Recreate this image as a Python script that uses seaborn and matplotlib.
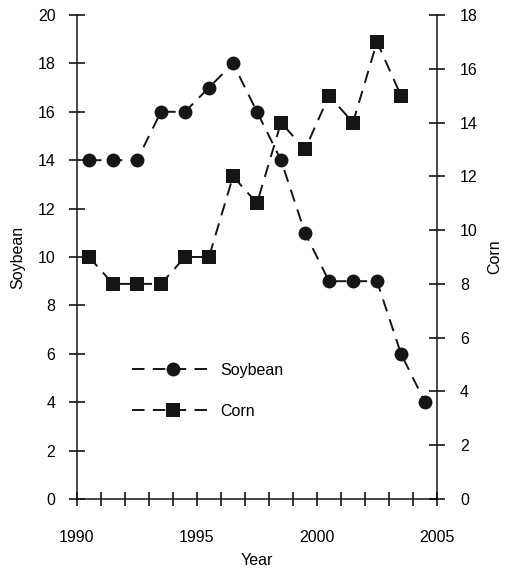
import numpy as np
import pandas as pd
import matplotlib
matplotlib.use('Agg')
import matplotlib.pyplot as plt
import seaborn as sns

# Values (mid-year points)
years_soy = [1990.5, 1991.5, 1992.5, 1993.5, 1994.5, 1995.5, 1996.5, 1997.5,
             1998.5, 1999.5, 2000.5, 2001.5, 2002.5, 2003.5, 2004.5]
soybean = [14, 14, 14, 16, 16, 17, 18, 16, 14, 11, 9, 9, 9, 6, 4]

years_corn = [1990.5, 1991.5, 1992.5, 1993.5, 1994.5, 1995.5, 1996.5,
              1997.5, 1998.5, 1999.5, 2000.5, 2001.5, 2002.5, 2003.5]
corn = [9, 8, 8, 8, 9, 9, 12, 11, 14, 13, 15, 14, 17, 15]

year_ticks = [1990, 1995, 2000, 2005]
soy_ticks = list(range(0, 21, 2))
corn_ticks = list(range(0, 19, 2))

sns.set_style('ticks')
plt.rcParams['font.family'] = ['Liberation Sans', 'DejaVu Sans']
plt.rcParams['text.color'] = 'black'
plt.rcParams['axes.labelcolor'] = 'black'
plt.rcParams['xtick.color'] = 'black'
plt.rcParams['ytick.color'] = 'black'
plt.rcParams['lines.scale_dashes'] = False
plt.rcParams['lines.dashed_pattern'] = [9, 6]

df_soy = pd.DataFrame({'year': years_soy, 'value': soybean})
df_corn = pd.DataFrame({'year': years_corn, 'value': corn})

fig = plt.figure(figsize=(5.05, 5.68), dpi=100)
ax = fig.add_axes([77 / 505, 69 / 568, 360 / 505, 484 / 568])
ax2 = ax.twinx()

line_kw = dict(color='#151515', linewidth=1.4, linestyle='--',
               markersize=10, markeredgewidth=0)
sns.lineplot(data=df_soy, x='year', y='value', ax=ax, marker='o',
             label='Soybean', legend=False, **line_kw)
sns.lineplot(data=df_corn, x='year', y='value', ax=ax2, marker='s',
             label='Corn', legend=False, **{**line_kw, 'markersize': 9.5})

ax.set_xlim(1990, 2005)
ax.set_ylim(0, 20)
ax2.set_ylim(0, 18)
ax.set_xticks(year_ticks)
ax.set_xticks(range(1990, 2006), minor=True)
ax.set_yticks(soy_ticks)
ax2.set_yticks(corn_ticks)

for a in (ax, ax2):
    a.spines['top'].set_visible(False)
    for s in a.spines.values():
        s.set_linewidth(1.1)
        s.set_color('#151515')
ax.spines['right'].set_visible(False)
ax2.spines['left'].set_visible(False)
ax2.spines['bottom'].set_visible(False)

ax.tick_params(axis='x', which='both', direction='inout', length=10,
               width=1.1, pad=17, labelsize=11.5)
ax.tick_params(axis='y', direction='inout', length=11, width=1.1,
               pad=10, labelsize=11.5)
ax2.tick_params(axis='y', direction='inout', length=11, width=1.1,
                pad=11, labelsize=11.5)

ax.set_xlabel('Year', fontsize=11.5, labelpad=6)
ax.set_ylabel('Soybean', fontsize=11.5, labelpad=9)
ax2.set_ylabel('Corn', fontsize=11.5, labelpad=7)

handles = ax.get_lines()[:1] + ax2.get_lines()[:1]
fig.legend(handles, ['Soybean', 'Corn'], loc='upper left',
           bbox_to_anchor=(132 / 505, 1 - 363 / 568), frameon=False,
           fontsize=11.5, handlelength=5.1, handletextpad=0.45,
           labelspacing=1.6, borderpad=0, borderaxespad=0, numpoints=1)

fig.savefig('out.png', dpi=100)
